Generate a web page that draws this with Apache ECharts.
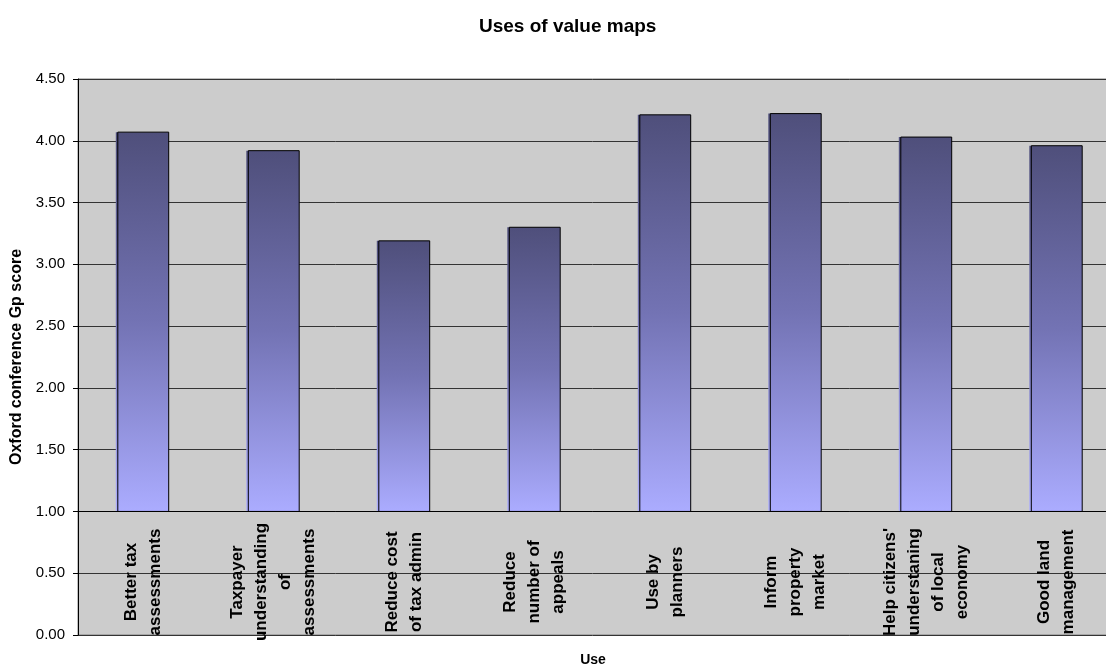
<!DOCTYPE html>
<html>
<head>
<meta charset="utf-8">
<title>Uses of value maps</title>
<script src="https://cdn.jsdelivr.net/npm/echarts@6/dist/echarts.min.js"></script>
<style>
  html, body { margin: 0; padding: 0; background: #ffffff; }
  #chart { width: 1106px; height: 667px; }
</style>
</head>
<body>
<div id="chart"></div>
<script>
// Uses of value maps, scored by the Oxford conference group
const categories = [
  'Better tax\nassessments',
  'Taxpayer\nunderstanding\nof\nassessments',
  'Reduce cost\nof tax admin',
  'Reduce\nnumber of\nappeals',
  'Use by\nplanners',
  'Inform\nproperty\nmarket',
  "Help citizens'\nunderstaning\nof local\neconomy",
  'Good land\nmanagement'
];
const scores = [4.07, 3.92, 3.19, 3.30, 4.21, 4.22, 4.03, 3.96];

// value axis range; the category axis crosses the value axis at 1.00
const yMin = 0;
const yMax = 4.5;
const yStep = 0.5;
const crossAt = 1.0;

const FONT = "'Liberation Sans', Arial, sans-serif";

const chart = echarts.init(document.getElementById('chart'), null, { renderer: 'canvas' });

// each bar rises from the crossing line to its score
function renderBar(params, api) {
  const idx = api.value(0);
  const val = api.value(1);
  const top = api.coord([idx, val]);
  const base = api.coord([idx, crossAt]);
  const bw = api.size([1, 0])[0] * 0.39;
  const x = top[0] - bw / 2;
  const y = Math.min(top[1], base[1]);
  const h = Math.abs(base[1] - top[1]);
  const fill = new echarts.graphic.LinearGradient(0, 0, 0, 1, [
    { offset: 0, color: '#4f4f7b' },
    { offset: 0.5, color: '#7373b4' },
    { offset: 1, color: '#abacff' }
  ]);
  return {
    type: 'group',
    children: [
      { type: 'rect', shape: { x: x - 2, y: y, width: bw + 2, height: h }, style: { fill: fill } },
      { type: 'rect', shape: { x: x, y: y, width: bw, height: h },
        style: { fill: null, stroke: '#000000', lineWidth: 1 } }
    ]
  };
}

chart.setOption({
  animation: false,
  backgroundColor: '#ffffff',
  textStyle: { fontFamily: FONT },
  title: {
    text: 'Uses of value maps',
    left: 474,
    top: 12,
    textStyle: { fontFamily: FONT, fontSize: 19, fontWeight: 'bold', color: '#000000' }
  },
  graphic: [{
    type: 'text',
    x: 593,
    y: 660,
    style: {
      text: 'Use',
      font: "bold 14px 'Liberation Sans', Arial, sans-serif",
      fill: '#000000',
      align: 'center',
      verticalAlign: 'middle'
    }
  }],
  grid: {
    left: 78, right: -16, top: 79, bottom: 32,
    outerBoundsMode: 'none',
    containLabel: false,
    show: true,
    backgroundColor: '#cccccc',
    borderColor: '#808080',
    borderWidth: 1
  },
  xAxis: {
    type: 'category',
    data: categories,
    axisLine: { show: false },
    axisTick: { show: false },
    splitLine: { show: false },
    axisLabel: {
      inside: true,
      interval: 0,
      rotate: 90,
      align: 'center',
      verticalAlign: 'middle',
      margin: 53,
      fontFamily: FONT,
      fontSize: 17,
      fontWeight: 'bold',
      lineHeight: 24,
      color: '#000000'
    }
  },
  yAxis: {
    type: 'value',
    min: yMin,
    max: yMax,
    interval: yStep,
    name: 'Oxford conference Gp score',
    nameLocation: 'middle',
    nameGap: 53,
    nameTextStyle: { fontFamily: FONT, fontSize: 16, fontWeight: 'bold', color: '#000000' },
    axisLine: { show: true, lineStyle: { color: '#000000', width: 1 } },
    axisTick: { show: true, length: 5, lineStyle: { color: '#000000' } },
    axisLabel: {
      margin: 13,
      fontFamily: FONT,
      fontSize: 15,
      color: '#000000',
      formatter: v => v.toFixed(2)
    },
    splitLine: { show: true, lineStyle: { color: '#333333', width: 1 } }
  },
  series: [{
    type: 'custom',
    renderItem: renderBar,
    encode: { x: 0, y: 1 },
    data: scores.map((s, i) => [i, s]),
    markLine: {
      silent: true,
      symbol: 'none',
      label: { show: false },
      lineStyle: { color: '#000000', width: 1, type: 'solid' },
      data: [{ yAxis: crossAt }]
    },
    z: 3
  }]
});
</script>
</body>
</html>
